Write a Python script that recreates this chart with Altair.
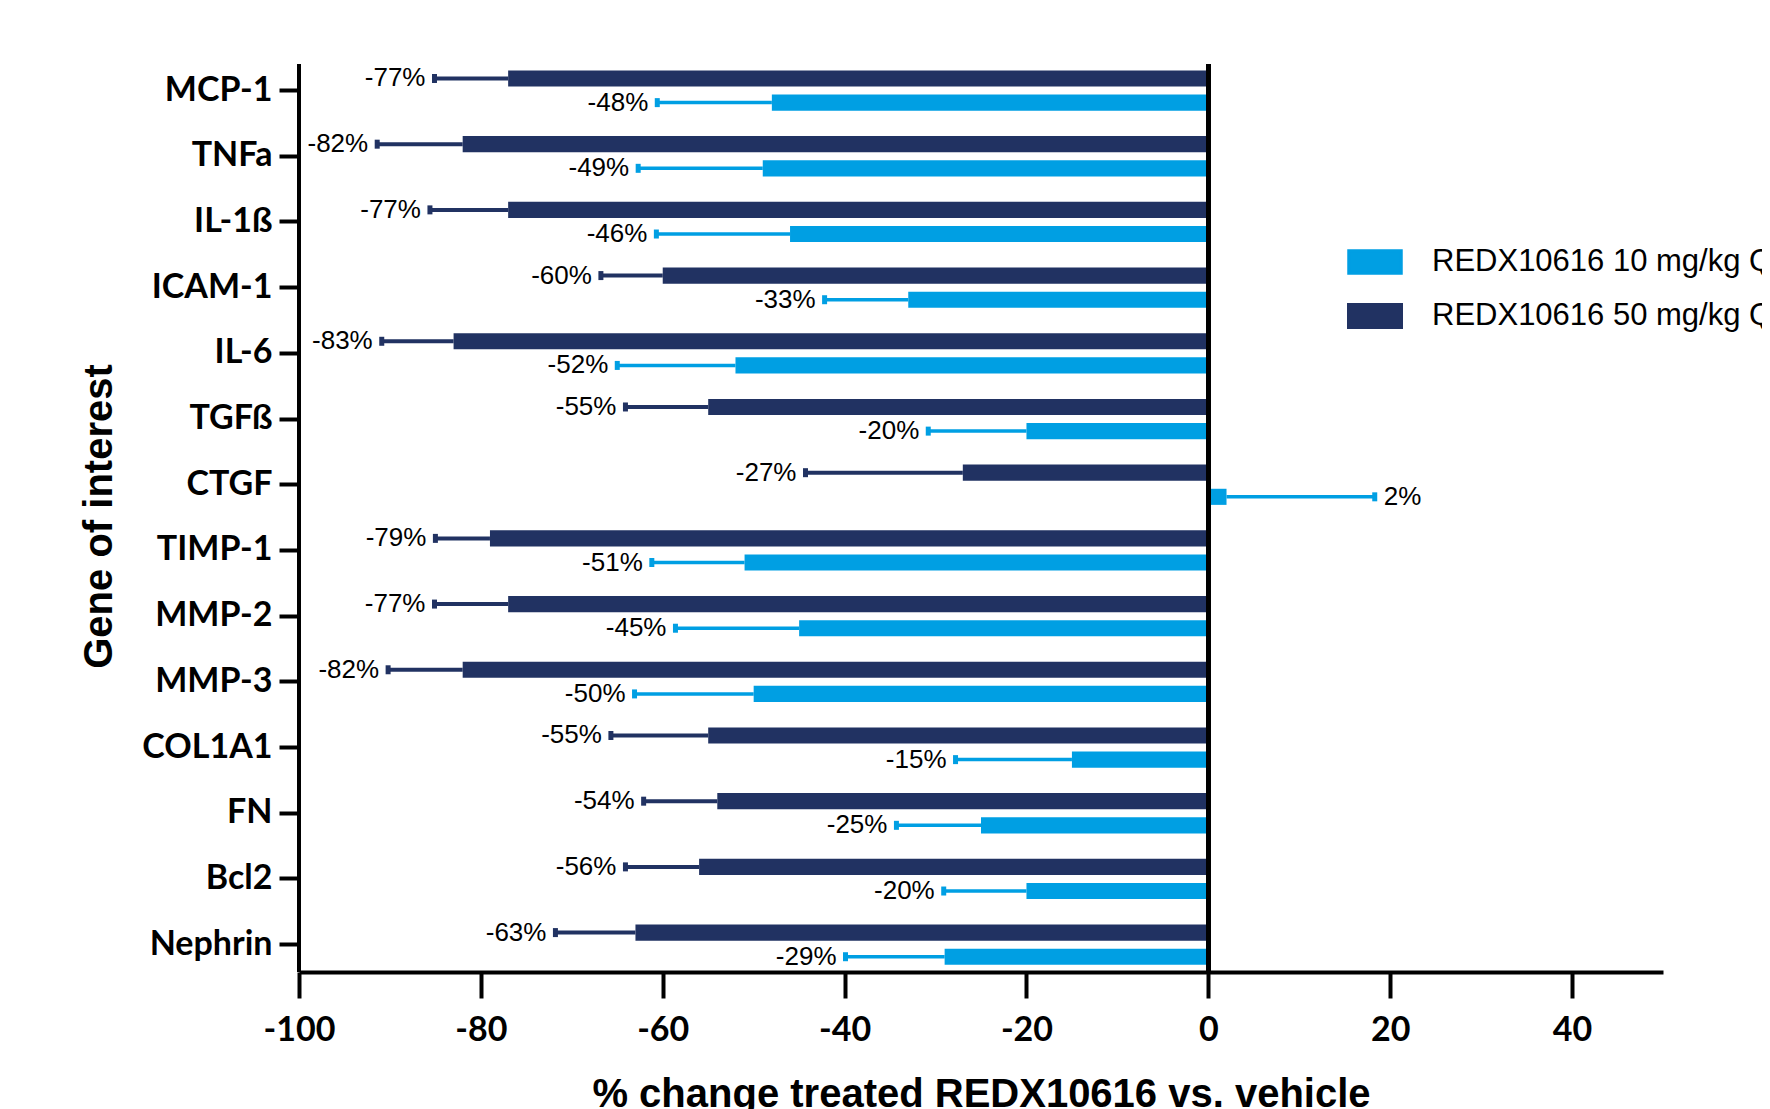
import altair as alt
import pandas as pd

genes = ["MCP-1", "TNFa", "IL-1ß", "ICAM-1", "IL-6", "TGFß", "CTGF",
         "TIMP-1", "MMP-2", "MMP-3", "COL1A1", "FN", "Bcl2", "Nephrin"]
S10 = "REDX10616 10 mg/kg QD"
S50 = "REDX10616 50 mg/kg QD"
dose50 = [-77, -82, -77, -60, -83, -55, -27, -79, -77, -82, -55, -54, -56, -63]
err50 = [8.1, 9.4, 8.6, 6.8, 7.9, 9.1, 17.3, 6.0, 8.1, 8.2, 10.7, 8.1, 8.1, 8.8]
dose10 = [-48, -49, -46, -33, -52, -20, 2, -51, -45, -50, -15, -25, -20, -29]
err10 = [12.6, 13.7, 14.7, 9.2, 13.0, 10.8, 16.3, 10.2, 13.6, 13.1, 12.8, 9.3, 9.1, 10.9]
x_ticks = [-100, -80, -60, -40, -20, 0, 20, 40]

LIGHT = "#009FE3"
DARK = "#213262"

rows = []
for i, g in enumerate(genes):
    rows.append({"gene": g, "series": S50, "value": dose50[i], "err": err50[i]})
    rows.append({"gene": g, "series": S10, "value": dose10[i], "err": err10[i]})
df = pd.DataFrame(rows)
df["end"] = [v - e if v < 0 else v + e for v, e in zip(df["value"], df["err"])]
df["label"] = [f"{v}%" for v in df["value"]]

color_scale = alt.Scale(domain=[S10, S50], range=[LIGHT, DARK])

PLOT_W = 1364
PLOT_H = 908

base = alt.Chart(df).encode(
    y=alt.Y(
        "gene:N",
        sort=genes,
        scale=alt.Scale(paddingInner=0, paddingOuter=0, range=[-6.3, 913.5]),
        axis=alt.Axis(
            title="Gene of interest",
            titleFont="Liberation Sans",
            titleFontSize=40,
            titleFontWeight="bold",
            titleColor="black",
            titleX=-200,
            titleY=PLOT_H / 2 - 2,
            titleAlign="center",
            titleBaseline="middle",
            labelFont="Lato",
            labelFontSize=34,
            labelFontWeight="bold",
            labelColor="black",
            labelPadding=7,
            tickSize=20,
            tickWidth=4,
            tickColor="black",
            domain=False,
            grid=False,
        ),
    ),
    yOffset=alt.YOffset(
        "series:N",
        sort=[S50, S10],
        scale=alt.Scale(paddingInner=0.333, paddingOuter=0.527),
    ),
)

bars = base.mark_bar().encode(
    x=alt.X(
        "value:Q",
        scale=alt.Scale(domain=[-100, 50], nice=False),
        axis=alt.Axis(
            values=x_ticks,
            labelExpr="replace(datum.label, '\u2212', '-')",
            labelFlush=False,
            title="% change treated REDX10616 vs. vehicle",
            titleFont="Liberation Sans",
            titleFontSize=40,
            titleFontWeight="bold",
            titleColor="black",
            titleX=PLOT_W / 2,
            titleY=134,
            titleAlign="center",
            titleBaseline="alphabetic",
            labelFont="Lato",
            labelFontSize=34,
            labelFontWeight="bold",
            labelColor="black",
            labelPadding=15,
            tickSize=26,
            tickWidth=4,
            tickColor="black",
            domainColor="black",
            domainWidth=4,
            grid=False,
        ),
    ),
    color=alt.Color(
        "series:N",
        scale=color_scale,
        legend=alt.Legend(
            title=None,
            orient="none",
            legendX=1048,
            legendY=170,
            symbolType="M-1,-0.423H1V0.423H-1Z",
            symbolSize=2704,
            symbolStrokeWidth=0,
            symbolOpacity=1,
            labelFont="Liberation Sans",
            labelFontSize=31,
            labelColor="black",
            labelOffset=29,
            labelLimit=2000,
            rowPadding=8,
            padding=0,
        ),
    ),
)

whiskers = base.mark_rule().encode(
    x="value:Q",
    x2="end:Q",
    color=alt.Color("series:N", scale=color_scale, legend=None),
    strokeWidth=alt.StrokeWidth(
        "series:N", scale=alt.Scale(domain=[S10, S50], range=[3.5, 4]), legend=None
    ),
)

caps = base.mark_tick(thickness=5, size=9, opacity=1).encode(
    x="end:Q",
    color=alt.Color("series:N", scale=color_scale, legend=None),
)

labels_neg = base.transform_filter("datum.value < 0").mark_text(
    align="right", baseline="middle", dx=-9,
    font="Liberation Sans", fontSize=26, color="black",
).encode(x="end:Q", text="label:N")

labels_pos = base.transform_filter("datum.value >= 0").mark_text(
    align="left", baseline="middle", dx=9,
    font="Liberation Sans", fontSize=26, color="black",
).encode(x="end:Q", text="label:N")

zero_line = alt.Chart(df).mark_rule(color="black", strokeWidth=4).encode(
    x=alt.datum(0)
)

y_axis_line = alt.Chart(df).mark_rule(color="black", strokeWidth=4).encode(
    x=alt.datum(-100)
)

chart = alt.layer(
    bars, whiskers, caps, labels_neg, labels_pos, zero_line, y_axis_line
).properties(
    width=PLOT_W,
    height=PLOT_H,
    padding={"left": 291, "top": 56, "right": 99, "bottom": 137},
    autosize=alt.AutoSizeParams(type="none"),
    background="white",
).configure_view(stroke=None)

chart.save("out.html", embed_options={"renderer": "svg", "actions": False})
